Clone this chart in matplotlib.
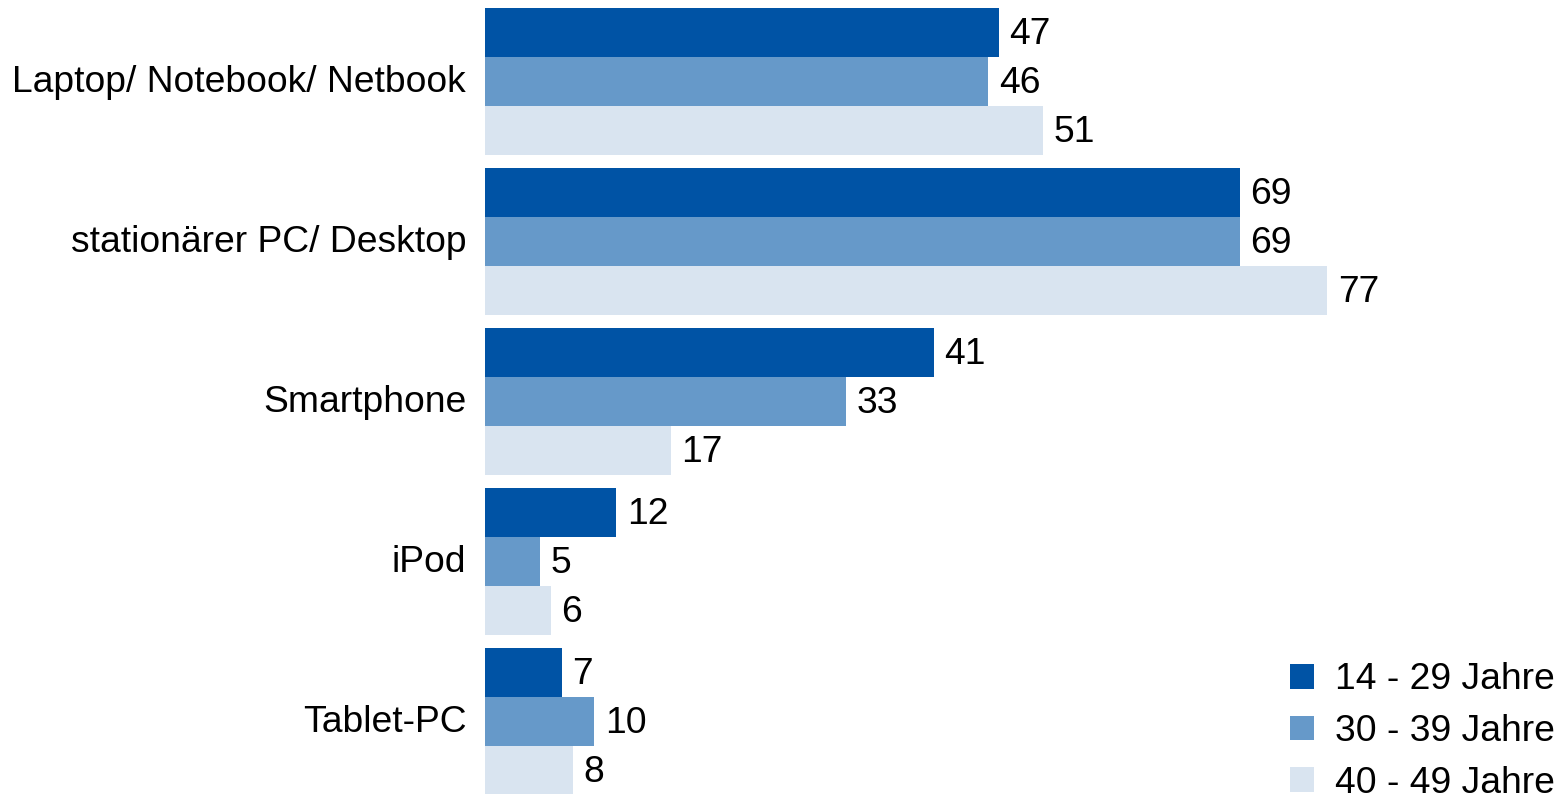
import matplotlib.pyplot as plt
import matplotlib.transforms as mtrans
import numpy as np

plt.rcParams['font.family'] = ['Liberation Sans', 'DejaVu Sans']

# ------------------------------------  data  ------------------------------------
categories = ["Laptop/ Notebook/ Netbook", "stationärer PC/ Desktop", "Smartphone", "iPod", "Tablet-PC"]
series_names = ["14 - 29 Jahre", "30 - 39 Jahre", "40 - 49 Jahre"]
vals_14_29 = [47, 69, 41, 12, 7]
vals_30_39 = [46, 69, 33, 5, 10]
vals_40_49 = [51, 77, 17, 6, 8]
colors = ["#0053A5", "#6699C9", "#D9E4F0"]

# ------------------------------------  plot  ------------------------------------
fig = plt.figure(figsize=(15.62, 7.94), dpi=100)
ax = fig.add_axes([485 / 1562, 0, 1 - 485 / 1562, 1])

y = np.arange(len(categories))
h = 0.306
fs = 26.8

all_vals = [vals_14_29, vals_30_39, vals_40_49]
for i, (vals, name, col) in enumerate(zip(all_vals, series_names, colors)):
    pos = y + (i - 1) * h
    bars = ax.barh(pos, vals, height=h, color=col, label=name)
    for b, v in zip(bars, vals):   # value next to each bar
        ax.annotate(str(v), (b.get_width(), b.get_y() + b.get_height() / 2),
                    xytext=(7.5, -1.5), textcoords='offset points',
                    ha='left', va='center', fontsize=fs)

ax.set_xlim(0, 1077 / 10.94)
ax.set_ylim((794 - 81.5) / 160, -81.5 / 160)
ax.set_yticks(y)
ax.set_yticklabels(categories, fontsize=fs)
ax.tick_params(axis='y', length=0, pad=13.5)
shift = mtrans.ScaledTranslation(0, 3 / 100, fig.dpi_scale_trans)
for lab in ax.get_yticklabels():   # nudge category labels up a little
    lab.set_transform(lab.get_transform() + shift)
ax.set_xticks([])
for s in ax.spines.values():
    s.set_visible(False)

ax.legend(loc='lower right', bbox_to_anchor=(1.0, -0.018), bbox_transform=fig.transFigure,
          frameon=False, fontsize=fs, handlelength=0.65, handleheight=0.65,
          handletextpad=0.55, labelspacing=0.45, borderaxespad=0, borderpad=0.2)

fig.savefig("out.png", dpi=100)
